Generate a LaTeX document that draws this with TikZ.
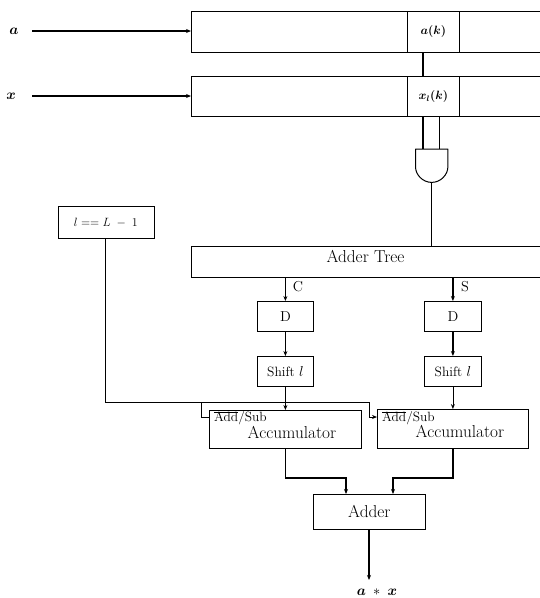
\documentclass[tikz,border=0pt]{standalone}
\usetikzlibrary{arrows.meta}
\DeclareMathAlphabet{\mathbi}{OML}{cmm}{b}{it}
\tikzset{
  x=1pt,y=-1pt,
  box/.style={draw,line width=0.8pt,inner sep=0pt,anchor=north west},
  txt/.style={inner sep=0pt},
  wire/.style={line width=0.8pt},
  heavy/.style={line width=1.25pt},
  arr/.style={-{Stealth[length=5pt,width=4pt]}},
  addsub/.style={inner sep=0pt,anchor=base west,font=\fontsize{13.4}{15}\selectfont},
  shiftfont/.style={font=\fontsize{13.5}{15}\selectfont},
}
\newcommand{\boxat}[5]{\node[box,minimum width=#3pt,minimum height=#4pt] (#1) at #2 {#5};}
\newcommand{\addsubtext}{\makebox[0pt][l]{\rule[8.6pt]{24pt}{0.6pt}}Add/Sub}
\begin{document}
\begin{tikzpicture}
\clip (0,0) rectangle (540,598);
\fill[white] (0,0) rectangle (540,598);
% registers
\boxat{rega}{(191,11)}{360}{41}{}
\boxat{cella}{(407,11)}{52}{41}{\large$\mathbi{a}$\textbf{(}$\mathbi{k}$\textbf{)}}
\boxat{regx}{(191,76)}{360}{40}{}
\boxat{cellx}{(407,76)}{52}{40}{\large$\mathbi{x}_{\mathbi{l}}$\textbf{(}$\mathbi{k}$\textbf{)}}
% input labels
\node[txt] (la) at (14,31) {\Large$\mathbi{a}$};
\node[txt] (lx) at (11,96) {\Large$\mathbi{x}$};
\coordinate (ina) at (32,31);
\coordinate (inx) at (32,96);
\draw[heavy,arr] (ina) -- (rega.west |- ina);
\draw[heavy,arr] (inx) -- (regx.west |- inx);
% and gate
\node[minimum width=32pt,minimum height=33pt,inner sep=0pt,anchor=north west] (gate) at (415.5,149) {};
\draw[line width=1pt,line join=round] (gate.north west) -- (gate.north east) -- ([yshift=-1pt]gate.east)
  .. controls ([yshift=-9pt]gate.east) and ([xshift=9pt]gate.south) .. (gate.south)
  .. controls ([xshift=-9pt]gate.south) and ([yshift=-9pt]gate.west) .. ([yshift=-1pt]gate.west) -- cycle;
\coordinate (w1) at (423,52);
\coordinate (w2) at (439,116);
\draw[heavy] (w1) -- (w1 |- regx.north);
\draw[heavy] (w1 |- regx.south) -- (w1 |- gate.north);
\draw[wire] (w2) -- (w2 |- gate.north);
% adder tree
\boxat{tree}{(191,246)}{360}{31}{}
\node[txt,font=\LARGE] (treel) at (365.5,256) {Adder Tree};
\draw[heavy] (gate.south) -- (gate.south |- tree.north);
% comparator
\boxat{cmp}{(57.5,206)}{96}{32}{\large$l==L\;-\;1$}
% delay and shift
\boxat{dc}{(257,301)}{56}{30}{\Large D}
\boxat{ds}{(424,301)}{57}{30}{\Large D}
\boxat{sc}{(257,356)}{56}{30}{\fontsize{13.5}{15}\selectfont Shift $l$}
\boxat{ss}{(424,356)}{57}{30}{\fontsize{13.5}{15}\selectfont Shift $l$}
\node[txt,font=\Large] (cl) at (298,287) {C};
\node[txt,font=\Large] (sl) at (465,287) {S};
% accumulators
\boxat{acc}{(209,410)}{152}{38}{}
\boxat{acs}{(377,409)}{151}{39}{}
\node[txt,font=\LARGE] (accl) at (292,432) {Accumulator};
\node[txt,font=\LARGE] (acsl) at (460,431) {Accumulator};
\node[addsub] (asc) at (214,421) {\addsubtext};
\node[addsub] (ass) at (382,421) {\addsubtext};
% adder
\boxat{add}{(313,494)}{112}{35}{\LARGE Adder}
\node[txt,font=\Large] (res) at (377,592) {$\mathbi{a}\;*\;\mathbi{x}$};
\coordinate (out) at (369,580);
% vertical data path
\draw[heavy,arr] (dc.north |- tree.south) -- (dc.north);
\draw[heavy,arr] (ds.north |- tree.south) -- (ds.north);
\draw[heavy,arr] (dc.south) -- (sc.north);
\draw[heavy,arr] (ds.south) -- (ss.north);
\draw[heavy,arr] (sc.south) -- (sc.south |- acc.north);
\draw[wire,arr] (ss.south) -- (ss.south |- acs.north);
% control path
\coordinate (ctl) at (105,402);
\coordinate (br1) at (201,402);
\coordinate (br2) at (369,402);
\coordinate (sig) at (0,417);
\draw[wire] (cmp.south -| ctl) -- (ctl) -- (br2) -- (br2 |- sig);
\draw[wire,arr] (br2 |- sig) -- (acs.west |- sig);
\draw[wire] (br1) -- (br1 |- sig) -- (acc.west |- sig);
% to adder
\coordinate (j) at (0,478);
\coordinate (a1) at (346,494);
\coordinate (a2) at (393,494);
\draw[heavy,arr] (sc.south |- acc.south) -- (sc.south |- j) -- (a1 |- j) -- (a1);
\draw[heavy,arr] (ss.south |- acs.south) -- (ss.south |- j) -- (a2 |- j) -- (a2);
\draw[heavy,arr] (add.south -| out) -- (out);
\end{tikzpicture}
\end{document}
